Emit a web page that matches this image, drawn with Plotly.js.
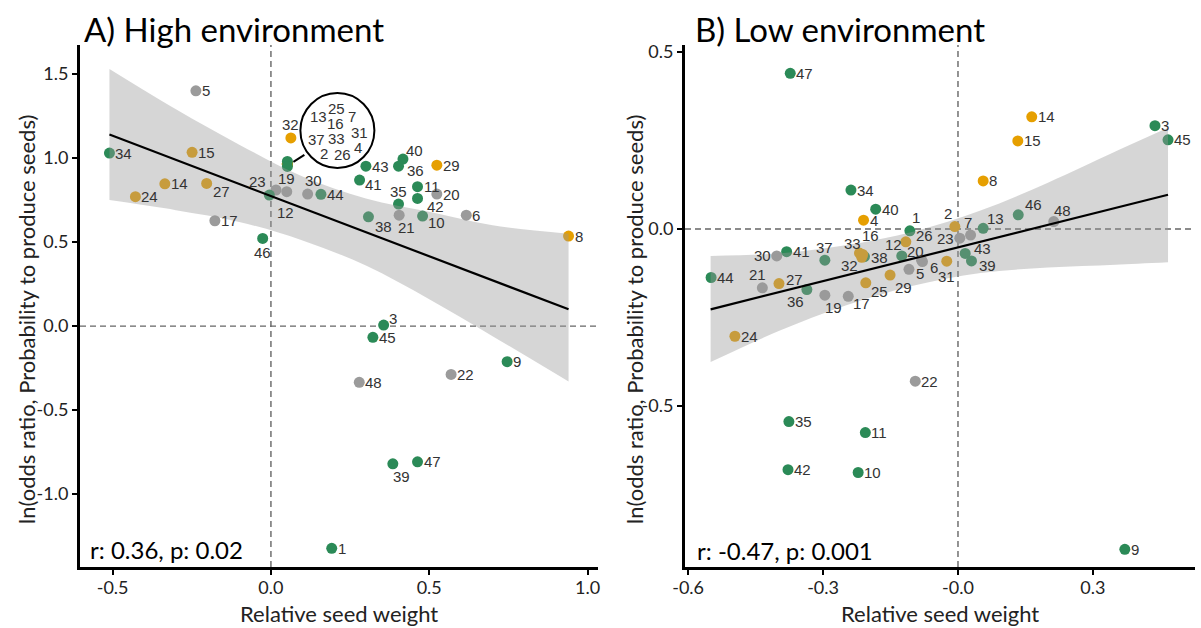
<!DOCTYPE html>
<html><head><meta charset="utf-8">
<script src="https://cdn.plot.ly/plotly-3.0.1.min.js"></script>
<style>html,body{margin:0;padding:0;background:#fff}#chart{width:1201px;height:628px}</style>
</head><body><div id="chart"></div>
<script>
// ---------- Panel A: High environment ----------
const idsA = [5,34,15,14,27,24,17,46,23,12,19,32,30,44,43,41,40,36,29,11,42,35,20,10,21,38,6,3,45,9,22,48,39,47,1,8,25,7,16,33,31,2,26,4,13,37];
const xA = [-0.237,-0.510,-0.249,-0.335,-0.203,-0.428,-0.177,-0.026,0.016,-0.005,0.050,0.063,0.116,0.158,0.300,0.280,0.417,0.403,0.524,0.463,0.463,0.403,0.524,0.479,0.405,0.308,0.617,0.356,0.322,0.746,0.569,0.279,0.385,0.463,0.192,0.940,0.052,0.052,0.052,0.052,0.052,0.052,0.052,0.052,0.052,0.052];
const yA = [1.400,1.030,1.034,0.847,0.849,0.770,0.627,0.522,0.810,0.780,0.800,1.120,0.786,0.784,0.952,0.869,0.994,0.952,0.958,0.830,0.760,0.726,0.786,0.655,0.660,0.650,0.660,0.006,-0.067,-0.212,-0.288,-0.335,-0.820,-0.808,-1.323,0.536,0.965,0.965,0.965,0.965,0.965,0.965,0.965,0.965,0.980,0.950];
const grpA = ['Y','G','O','O','O','O','Y','G','Y','G','Y','O','Y','G','G','G','G','G','O','G','G','G','Y','G','Y','G','Y','G','G','G','Y','Y','G','G','G','O','O','Y','O','O','O','O','O','O','G','G'];
const bandA_x = [-0.51,-0.3,-0.1,0.1,0.3,0.5,0.7,0.94];
const bandA_hi = [1.53,1.29,1.08,0.89,0.76,0.68,0.60,0.55];
const bandA_lo = [0.75,0.69,0.62,0.51,0.36,0.16,-0.06,-0.33];
const fitA_x = [-0.51,0.94];
const fitA_y = [1.14,0.10];
const statA = 'r: 0.36, p: 0.02';
const titleA = 'A) High environment';
const xticksA = [-0.5,0,0.5,1.0];
const xtickTextA = ['-0.5','0.0','0.5','1.0'];
const yticksA = [-1.0,-0.5,0,0.5,1.0,1.5];
const ytickTextA = ['-1.0','-0.5','0.0','0.5','1.0','1.5'];

// ---------- Panel B: Low environment ----------
const idsB = [47,3,45,14,15,8,34,40,4,30,41,37,44,21,27,36,19,17,38,33,16,32,25,29,12,26,1,20,6,5,31,2,23,7,13,46,48,43,39,24,22,35,11,42,10,9];
const xB = [-0.373,0.438,0.467,0.164,0.133,0.056,-0.238,-0.183,-0.210,-0.403,-0.381,-0.296,-0.549,-0.435,-0.398,-0.336,-0.296,-0.244,-0.208,-0.219,-0.212,-0.214,-0.205,-0.151,-0.125,-0.116,-0.107,-0.081,-0.079,-0.109,-0.025,-0.007,0.004,0.028,0.056,0.134,0.213,0.016,0.030,-0.496,-0.095,-0.376,-0.206,-0.378,-0.222,0.371];
const yB = [0.440,0.292,0.252,0.317,0.249,0.136,0.110,0.056,0.025,-0.076,-0.064,-0.088,-0.137,-0.166,-0.154,-0.171,-0.187,-0.190,-0.078,-0.068,-0.072,-0.080,-0.152,-0.130,-0.076,-0.036,-0.005,-0.088,-0.092,-0.114,-0.091,0.007,-0.026,-0.017,0.002,0.040,0.021,-0.069,-0.090,-0.303,-0.430,-0.544,-0.575,-0.680,-0.688,-0.905];
const grpB = ['G','G','G','O','O','O','G','G','O','Y','G','G','G','Y','O','G','Y','Y','G','O','O','O','O','O','G','O','G','Y','Y','Y','O','O','Y','Y','G','G','Y','G','G','O','Y','G','G','G','G','G'];
const bandB_x = [-0.55,-0.4,-0.25,-0.1,0.05,0.2,0.35,0.467];
const bandB_hi = [-0.076,-0.069,-0.046,-0.008,0.052,0.131,0.219,0.286];
const bandB_lo = [-0.376,-0.289,-0.216,-0.160,-0.124,-0.109,-0.101,-0.094];
const fitB_x = [-0.55,0.467];
const fitB_y = [-0.227,0.097];
const statB = 'r: -0.47, p: 0.001';
const titleB = 'B) Low environment';
const xticksB = [-0.6,-0.3,0,0.3];
const xtickTextB = ['-0.6','-0.3','-0.0','0.3'];
const yticksB = [-0.5,0,0.5];
const ytickTextB = ['-0.5','0.0','0.5'];

const xTitle = 'Relative seed weight';
const yTitle = 'ln(odds ratio, Probability to produce seeds)';

// ---------- styling (not data) ----------
const COLORS = {G:'#2b8a57', O:'#e69f00', Y:'#9b9b9b'};
// label placement: 'r' right, 'l' left, 't' top, 'b' bottom, or [dx,dy] pixel offset of label centre
const labelPosA = {27:[15,8],23:[-18,-8],12:[16,17],19:'t',30:[6,-14],32:'t',41:[14,4],40:[12,-9],36:[17,4],
  42:[18,8],35:'t',10:[14,6],21:[7,12],38:[15,10],3:[9,-7],39:[9,13],46:'b',
  13:[31,-45],25:[49,-55],7:[65,-47],16:[48,-40],37:[29,-27],33:[49,-25],31:[72,-31],2:[37,-10],26:[55,-9],4:[71,-16]};
const labelPosB = {30:'l',37:'t',21:[-5,-13],27:[16,-4],36:[-11,12],19:[9,12],17:[13,7],33:[-7,-10],16:[8,-19],
  38:[15,1],32:[-12,8],25:[14,9],29:[13,12],5:[11,4],6:[12,6],20:[-6,-9],31:[0,15],12:[-8,-11],26:[19,-6],
  1:[6,-13],2:[-7,-13],7:[-3,-13],23:'l',13:[12,-10],46:[15,-10],48:[9,-11],43:[17,-5],39:[16,5]};

const LABEL_FONT = {family:'Liberation Sans, Arial, sans-serif', size:15, color:'#333'};
const TEXT_FONT = 'Lato, Open Sans, sans-serif';

function pointTrace(xs, ys, grp, xa, ya){
  return {type:'scatter', mode:'markers', x:xs, y:ys, xaxis:xa, yaxis:ya,
    marker:{size:11, color:grp.map(g=>COLORS[g]), line:{width:0}}, hoverinfo:'skip', showlegend:false};
}
function bandTraces(bx, lo, hi, xa, ya){
  return [
    {type:'scatter', mode:'lines', x:bx, y:lo, xaxis:xa, yaxis:ya, line:{width:0, shape:'spline', smoothing:1}, hoverinfo:'skip', showlegend:false},
    {type:'scatter', mode:'lines', x:bx, y:hi, xaxis:xa, yaxis:ya, fill:'tonexty', fillcolor:'rgba(153,153,153,0.4)', line:{width:0, shape:'spline', smoothing:1}, hoverinfo:'skip', showlegend:false}
  ];
}
function fitTrace(fx, fy, xa, ya){
  return {type:'scatter', mode:'lines', x:fx, y:fy, xaxis:xa, yaxis:ya, line:{color:'#000', width:2.2}, hoverinfo:'skip', showlegend:false};
}
function labels(ids, xs, ys, pos, xr, yr){
  return ids.map((id,i)=>{
    const p = pos[id] || 'r';
    const a = {x:xs[i], y:ys[i], xref:xr, yref:yr, text:String(id), showarrow:false, font:LABEL_FONT, borderpad:0};
    if (p==='r'){ a.xanchor='left'; a.yanchor='middle'; a.xshift=5; }
    else if (p==='l'){ a.xanchor='right'; a.yanchor='middle'; a.xshift=-5; }
    else if (p==='t'){ a.xanchor='center'; a.yanchor='middle'; a.yshift=13; }
    else if (p==='b'){ a.xanchor='center'; a.yanchor='middle'; a.yshift=-14; }
    else { a.xanchor='center'; a.yanchor='middle'; a.xshift=p[0]; a.yshift=-p[1]; }
    return a;
  });
}

const data = [
  pointTrace(xA, yA, grpA, 'x', 'y'),
  ...bandTraces(bandA_x, bandA_lo, bandA_hi, 'x', 'y'),
  fitTrace(fitA_x, fitA_y, 'x', 'y'),
  pointTrace(xB, yB, grpB, 'x2', 'y2'),
  ...bandTraces(bandB_x, bandB_lo, bandB_hi, 'x2', 'y2'),
  fitTrace(fitB_x, fitB_y, 'x2', 'y2')
];

const axisBase = {showline:true, linewidth:3, linecolor:'#000', mirror:false, ticks:'outside', ticklen:5, tickwidth:2,
  tickcolor:'#000', showgrid:false, zeroline:false, tickfont:{family:TEXT_FONT, size:18, color:'#222'}, fixedrange:true};
const yDom = [1-567/628, 1-45/628];

const dashLine = {color:'#666', width:1.4, dash:'6px,4px'};
const shapes = [
  {type:'line', xref:'x', yref:'y domain', x0:0, x1:0, y0:0, y1:1, line:dashLine, layer:'below'},
  {type:'line', xref:'x domain', yref:'y', x0:0, x1:1, y0:0, y1:0, line:dashLine, layer:'below'},
  {type:'line', xref:'x2', yref:'y2 domain', x0:0, x1:0, y0:0, y1:1, line:dashLine, layer:'below'},
  {type:'line', xref:'x2 domain', yref:'y2', x0:0, x1:1, y0:0, y1:0, line:dashLine, layer:'below'},
  // cluster circle and connector (anchored at the stacked points)
  {type:'circle', xref:'x', yref:'y', xsizemode:'pixel', ysizemode:'pixel', xanchor:0.052, yanchor:0.965,
    x0:13, x1:87, y0:-4, y1:71, line:{color:'#000', width:2}, fillcolor:'rgba(0,0,0,0)', layer:'above'},
  {type:'line', xref:'x', yref:'y', xsizemode:'pixel', ysizemode:'pixel', xanchor:0.052, yanchor:0.965,
    x0:6, x1:17, y0:2, y1:9, line:{color:'#000', width:2}, layer:'above'}
];

const annotations = [
  ...labels(idsA, xA, yA, labelPosA, 'x', 'y'),
  ...labels(idsB, xB, yB, labelPosB, 'x2', 'y2'),
  {text:titleA, xref:'paper', yref:'paper', x:82/1201, y:1-29/628, xanchor:'left', yanchor:'middle', showarrow:false, font:{family:TEXT_FONT, size:33, color:'#000'}},
  {text:titleB, xref:'paper', yref:'paper', x:693/1201, y:1-29/628, xanchor:'left', yanchor:'middle', showarrow:false, font:{family:TEXT_FONT, size:33, color:'#000'}},
  {text:statA, xref:'paper', yref:'paper', x:88/1201, y:1-549/628, xanchor:'left', yanchor:'middle', showarrow:false, font:{family:TEXT_FONT, size:24, color:'#000'}},
  {text:statB, xref:'paper', yref:'paper', x:695/1201, y:1-550/628, xanchor:'left', yanchor:'middle', showarrow:false, font:{family:TEXT_FONT, size:24, color:'#000'}},
  {text:xTitle, xref:'paper', yref:'paper', x:339/1201, y:1-613/628, xanchor:'center', yanchor:'middle', showarrow:false, font:{family:TEXT_FONT, size:22, color:'#222'}},
  {text:xTitle, xref:'paper', yref:'paper', x:940/1201, y:1-613/628, xanchor:'center', yanchor:'middle', showarrow:false, font:{family:TEXT_FONT, size:22, color:'#222'}},
  {text:yTitle, xref:'paper', yref:'paper', x:26/1201, y:1-320/628, xanchor:'center', yanchor:'middle', textangle:-90, showarrow:false, font:{family:TEXT_FONT, size:22, color:'#222'}},
  {text:yTitle, xref:'paper', yref:'paper', x:634/1201, y:1-320/628, xanchor:'center', yanchor:'middle', textangle:-90, showarrow:false, font:{family:TEXT_FONT, size:22, color:'#222'}}
];

const xAxisExtra = {ticklabelstandoff:-3};
const layout = {
  width:1201, height:628, margin:{l:0, r:0, t:0, b:0}, paper_bgcolor:'#fff', plot_bgcolor:'rgba(0,0,0,0)',
  showlegend:false,
  xaxis:Object.assign({}, axisBase, xAxisExtra, {domain:[80/1201, 598/1201], range:[-0.603, 1.033], tickvals:xticksA, ticktext:xtickTextA, anchor:'y'}),
  yaxis:Object.assign({}, axisBase, {domain:yDom, range:[-1.434, 1.673], tickvals:yticksA, ticktext:ytickTextA, anchor:'x'}),
  xaxis2:Object.assign({}, axisBase, xAxisExtra, {domain:[685/1201, 1195/1201], range:[-0.607, 0.527], tickvals:xticksB, ticktext:xtickTextB, anchor:'y2'}),
  yaxis2:Object.assign({}, axisBase, {domain:yDom, range:[-0.955, 0.520], tickvals:yticksB, ticktext:ytickTextB, anchor:'x2'}),
  shapes:shapes, annotations:annotations
};

Plotly.newPlot('chart', data, layout, {staticPlot:true, displayModeBar:false});
</script>
</body></html>
